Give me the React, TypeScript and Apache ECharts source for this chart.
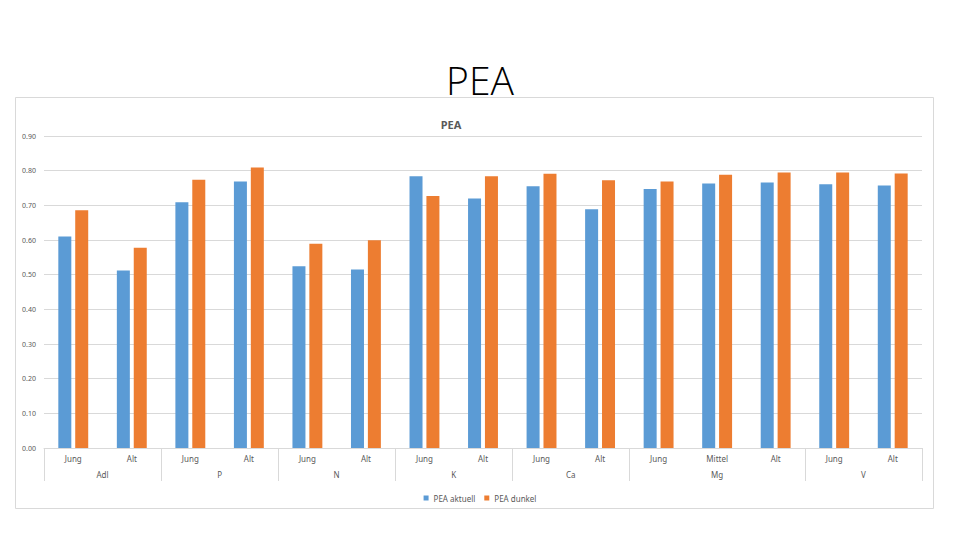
import React, { useEffect, useRef } from "react";
import * as echarts from "echarts";

const groupNames = ["Adl", "P", "N", "K", "Ca", "Mg", "V"];
const groupSubs = [
  ["Jung", "Alt"],
  ["Jung", "Alt"],
  ["Jung", "Alt"],
  ["Jung", "Alt"],
  ["Jung", "Alt"],
  ["Jung", "Mittel", "Alt"],
  ["Jung", "Alt"],
];
const peaAktuell = [0.61, 0.512, 0.709, 0.769, 0.524, 0.515, 0.784, 0.72, 0.755, 0.689, 0.747, 0.763, 0.766, 0.761, 0.757];
const peaDunkel = [0.686, 0.578, 0.774, 0.809, 0.589, 0.599, 0.727, 0.784, 0.791, 0.772, 0.769, 0.788, 0.795, 0.795, 0.792];
const yTicks = [0, 0.1, 0.2, 0.3, 0.4, 0.5, 0.6, 0.7, 0.8, 0.9];

const FONT = "'Noto Sans', 'Open Sans', sans-serif";
const GREY = "#595959";
const LINE = "#d9d9d9";

export default function App() {
  const ref = useRef<HTMLDivElement>(null);
  useEffect(() => {
    if (!ref.current) return;
    const chart = echarts.init(ref.current, undefined, { renderer: "svg" });

    const subCats: string[] = [];
    groupSubs.forEach((s) => s.forEach((x) => subCats.push(x)));
    const n = subCats.length;
    const halfData: string[] = new Array(2 * n + 1).fill("");
    const boundaries: number[] = [0];
    let pos = 0;
    groupSubs.forEach((s, gi) => {
      const start = pos;
      pos += s.length;
      halfData[start + pos] = groupNames[gi];
      boundaries.push(2 * pos);
    });

    chart.setOption({
      animation: false,
      textStyle: { fontFamily: FONT },
      graphic: [
        {
          type: "rect",
          shape: { x: 15.5, y: 97.5, width: 918, height: 411 },
          style: { fill: "none", stroke: LINE, lineWidth: 1 },
          silent: true,
        },
        {
          type: "text",
          x: 480,
          y: 79,
          style: {
            text: "PEA",
            fontSize: 39,
            fontFamily: "'Open Sans', sans-serif",
            fontWeight: 300,
            fill: "#000",
            align: "center",
            verticalAlign: "middle",
          },
        },
        {
          type: "text",
          x: 451,
          y: 124,
          style: {
            text: "PEA",
            fontSize: 11,
            fontFamily: FONT,
            fontWeight: "bold",
            fill: GREY,
            align: "center",
            verticalAlign: "middle",
          },
        },
      ],
      legend: {
        top: 489,
        left: "center",
        itemWidth: 5,
        itemHeight: 5,
        itemGap: 9,
        icon: "rect",
        textStyle: { fontSize: 8, color: GREY, fontFamily: FONT },
        data: ["PEA aktuell", "PEA dunkel"],
      },
      grid: { left: 44, right: 38, top: 136, bottom: 92, containLabel: false },
      xAxis: [
        {
          type: "category",
          data: subCats,
          position: "bottom",
          axisLine: { show: true, lineStyle: { color: LINE } },
          axisTick: { show: false },
          axisLabel: { interval: 0, fontSize: 8, color: GREY, margin: 6 },
        },
        {
          type: "category",
          data: halfData,
          boundaryGap: false,
          position: "bottom",
          offset: 0,
          axisLine: { show: false },
          axisTick: {
            show: true,
            length: 33,
            interval: (idx: number) => boundaries.includes(idx),
            lineStyle: { color: LINE },
          },
          axisLabel: { interval: 0, fontSize: 8, color: GREY, margin: 22 },
          splitLine: { show: false },
        },
      ],
      yAxis: {
        type: "value",
        min: 0,
        max: 0.9,
        interval: 0.1,
        axisLine: { show: false },
        axisTick: { show: false },
        axisLabel: {
          fontSize: 7,
          color: GREY,
          margin: 8,
          formatter: (v: number) => (yTicks.some((t) => Math.abs(t - v) < 1e-9) ? v.toFixed(2) : ""),
        },
        splitLine: { lineStyle: { color: LINE } },
      },
      series: [
        {
          name: "PEA aktuell",
          type: "bar",
          xAxisIndex: 0,
          data: peaAktuell,
          barWidth: 13,
          barGap: "30%",
          itemStyle: { color: "#5b9bd5" },
        },
        {
          name: "PEA dunkel",
          type: "bar",
          xAxisIndex: 0,
          data: peaDunkel,
          barWidth: 13,
          barGap: "30%",
          itemStyle: { color: "#ed7d31" },
        },
      ],
    });
    return () => chart.dispose();
  }, []);
  return (
    <div
      ref={ref}
      style={{ position: "absolute", left: 0, top: 0, width: 960, height: 540, background: "#fff" }}
    />
  );
}
